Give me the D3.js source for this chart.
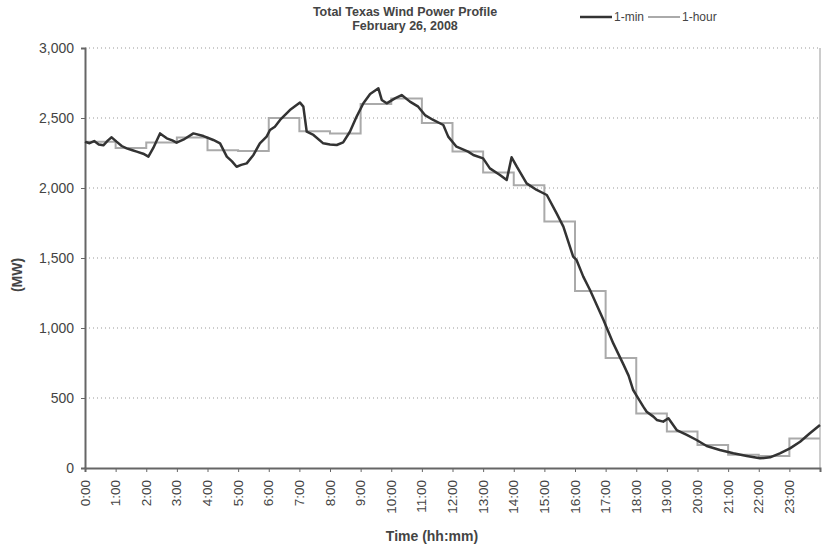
<!DOCTYPE html>
<html>
<head>
<meta charset="utf-8">
<script src="https://cdn.jsdelivr.net/npm/d3@7"></script>
<style>
  body { margin: 0; background: #fff; }
  text { font-family: "Liberation Sans", Arial, sans-serif; fill: #444; }
</style>
</head>
<body>
<div id="chart"></div>
<script>
// 1-minute profile (hour of day, MW)
var minHours = [0, 0.15, 0.3, 0.45, 0.6, 0.75, 0.87, 1.03, 1.2, 1.36, 1.55, 1.69, 1.9, 2.07, 2.23, 2.45, 2.67, 2.85, 2.99,
  3.21, 3.54, 3.87, 4.19, 4.41, 4.63, 4.8, 4.95, 5.1, 5.28, 5.5, 5.71, 5.93, 6.04, 6.2, 6.37, 6.69, 7.02, 7.13, 7.24,
  7.46, 7.78, 8.0, 8.22, 8.43, 8.65, 8.87, 9.09, 9.31, 9.5, 9.58, 9.69, 9.85, 10.12, 10.34, 10.61, 10.88, 11.1, 11.37,
  11.7, 11.86, 12.13, 12.51, 12.68, 13.0, 13.22, 13.55, 13.77, 13.93, 14.1, 14.42, 14.75, 15.08, 15.4, 15.62, 15.94,
  16.05, 16.27, 16.49, 16.93, 17.25, 17.58, 17.75, 17.9, 18.0, 18.23, 18.34, 18.56, 18.67, 18.88, 19.05, 19.32, 19.65,
  19.97, 20.3, 20.73, 21.17, 21.61, 22.04, 22.37, 22.69, 23.02, 23.35, 23.67, 24];
var minMW = [2330, 2320, 2335, 2310, 2305, 2340, 2362, 2331, 2300, 2283, 2270, 2260, 2245, 2224, 2286, 2390, 2355, 2340, 2324,
  2345, 2390, 2371, 2343, 2319, 2224, 2190, 2152, 2165, 2176, 2236, 2319, 2367, 2414, 2438, 2486, 2557, 2610, 2581, 2402,
  2379, 2319, 2310, 2307, 2326, 2402, 2510, 2605, 2671, 2700, 2712, 2629, 2605, 2640, 2664, 2617, 2581, 2521, 2486,
  2450, 2367, 2295, 2260, 2236, 2212, 2140, 2093, 2057, 2219, 2152, 2033, 1986, 1950, 1819, 1724, 1510,
  1486, 1367, 1271, 1057, 890, 740, 660, 557, 521, 438, 402, 367, 343, 331, 355, 271, 236,
  200, 157, 129, 105, 86, 69, 76, 105, 140, 188, 248, 307];

// 1-hour averages, one per hour starting 0:00
var hourMW = [2330, 2285, 2325, 2360, 2270, 2265, 2500, 2405, 2390, 2600, 2640, 2465,
  2260, 2110, 2020, 1760, 1265, 785, 390, 260, 165, 95, 85, 210];

var hourLabels = d3.range(24).map(function(h){ return h + ":00"; });
var yTicks = [0, 500, 1000, 1500, 2000, 2500, 3000];

var w = 829, h = 550;
var plotLeft = 85, plotRight = 820, plotTop = 48, plotBottom = 468;

var x = d3.scaleLinear().domain([0, 24]).range([plotLeft, plotRight]);
var y = d3.scaleLinear().domain([0, 3000]).range([plotBottom, plotTop]);

var svg = d3.select("#chart").append("svg")
  .attr("width", w)
  .attr("height", h);

// dotted gridlines
svg.append("g").selectAll("line")
  .data(yTicks.slice(1))
  .enter().append("line")
  .attr("x1", plotLeft).attr("x2", plotRight)
  .attr("y1", function(d){ return y(d); })
  .attr("y2", function(d){ return y(d); })
  .attr("stroke", "#999")
  .attr("stroke-width", 1)
  .attr("stroke-dasharray", "1,3");

// right border of plot area
svg.append("line")
  .attr("x1", plotRight).attr("x2", plotRight)
  .attr("y1", plotTop).attr("y2", plotBottom)
  .attr("stroke", "#bbb")
  .attr("stroke-width", 1.5);

// axes
var yAxis = svg.append("g")
  .attr("transform", "translate(" + plotLeft + ",0)")
  .call(d3.axisLeft(y).tickValues(yTicks).tickSize(4).tickPadding(7).tickFormat(d3.format(",")));
yAxis.select(".domain").attr("stroke", "#666").attr("stroke-width", 2);
yAxis.selectAll(".tick line").attr("stroke", "#666");
yAxis.selectAll("text").style("font-size", "14px").attr("fill", "#444");

var xAxis = svg.append("g")
  .attr("transform", "translate(0," + plotBottom + ")")
  .call(d3.axisBottom(x).tickValues(d3.range(25)).tickSize(4).tickFormat(""));
xAxis.select(".domain").attr("stroke", "#666").attr("stroke-width", 2);
xAxis.selectAll(".tick line").attr("stroke", "#666");

svg.append("g").selectAll("text")
  .data(hourLabels)
  .enter().append("text")
  .attr("transform", function(d, i){ return "translate(" + (x(i) + 4.5) + "," + (plotBottom + 12) + ") rotate(-90)"; })
  .attr("text-anchor", "end")
  .style("font-size", "13.5px")
  .text(function(d){ return d; });

// series
var minData = minHours.map(function(hh, i){ return [hh, minMW[i]]; });
var hourData = hourMW.map(function(v, i){ return [i, v]; });
hourData.push([24, hourMW[hourMW.length - 1]]);

svg.append("path")
  .datum(hourData)
  .attr("fill", "none")
  .attr("stroke", "#aaa")
  .attr("stroke-width", 2)
  .attr("d", d3.line().x(function(d){ return x(d[0]); }).y(function(d){ return y(d[1]); }).curve(d3.curveStepAfter));

svg.append("path")
  .datum(minData)
  .attr("fill", "none")
  .attr("stroke", "#333")
  .attr("stroke-width", 2.5)
  .attr("stroke-linejoin", "round")
  .attr("d", d3.line().x(function(d){ return x(d[0]); }).y(function(d){ return y(d[1]); }));

// titles
svg.append("text").attr("x", 405).attr("y", 16).attr("text-anchor", "middle")
  .style("font-size", "12.5px").style("font-weight", "bold").text("Total Texas Wind Power Profile");
svg.append("text").attr("x", 405).attr("y", 30).attr("text-anchor", "middle")
  .style("font-size", "12.5px").style("font-weight", "bold").text("February 26, 2008");

svg.append("text").attr("x", 432).attr("y", 541).attr("text-anchor", "middle")
  .style("font-size", "14px").style("font-weight", "bold").text("Time (hh:mm)");
svg.append("text").attr("transform", "translate(22,275) rotate(-90)").attr("text-anchor", "middle")
  .style("font-size", "14px").style("font-weight", "bold").text("(MW)");

// legend
var legend = [["1-min", "#333", 2.5, 580], ["1-hour", "#aaa", 2, 648]];
legend.forEach(function(l){
  svg.append("line").attr("x1", l[3]).attr("x2", l[3] + 32).attr("y1", 17).attr("y2", 17)
    .attr("stroke", l[1]).attr("stroke-width", l[2]);
  svg.append("text").attr("x", l[3] + 34).attr("y", 21).style("font-size", "12px").text(l[0]);
});
</script>
</body>
</html>
